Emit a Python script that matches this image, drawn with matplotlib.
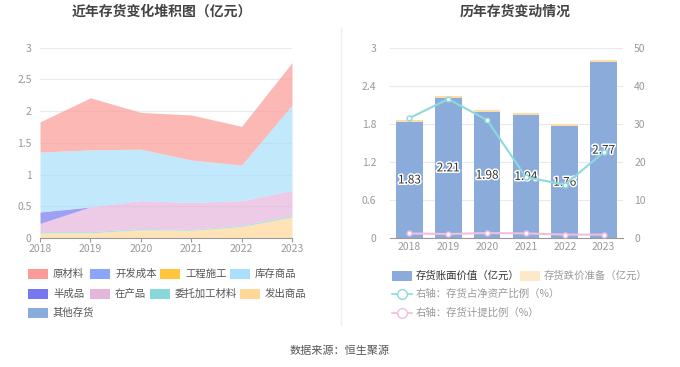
import numpy as np
import matplotlib.pyplot as plt
import matplotlib.patheffects as pe
from matplotlib.patches import Rectangle
from matplotlib.lines import Line2D

plt.rcParams['font.family'] = ['Noto Sans CJK SC', 'DejaVu Sans']

years = ['2018', '2019', '2020', '2021', '2022', '2023']

# left chart: stacked inventory components (亿元), bottom to top
fachu = [0.08, 0.08, 0.13, 0.12, 0.18, 0.33]        # 发出商品
weituo = [0.02, 0.02, 0.02, 0.015, 0.02, 0.025]     # 委托加工材料
zaichan = [0.13, 0.39, 0.44, 0.425, 0.39, 0.395]    # 在产品
banchengpin = [0.18, 0.0, 0.0, 0.0, 0.0, 0.0]       # 半成品
kucun = [0.945, 0.90, 0.81, 0.67, 0.56, 1.345]      # 库存商品
yuancailiao = [0.475, 0.82, 0.58, 0.71, 0.61, 0.67] # 原材料

# right chart
book_value = [1.83, 2.21, 1.98, 1.94, 1.76, 2.77]   # 存货账面价值
reserve = [0.03, 0.03, 0.03, 0.03, 0.03, 0.03]      # 存货跌价准备
net_asset_ratio = [31.5, 36.5, 31.0, 16.0, 14.0, 22.5]  # 存货占净资产比例
provision_ratio = [1.2, 1.05, 1.3, 1.2, 0.9, 0.9]       # 存货计提比例

fig = plt.figure(figsize=(6.8, 3.67), dpi=100)
W, H = 680, 367

def fx(px):
    return px / W

def fy(py):
    return 1 - py / H

grid_c = '#E6E9F0'
tick_c = '#999999'

# ---------- left: stacked area ----------
ax1 = fig.add_axes([fx(40), fy(238), fx(292) - fx(40), fy(47.7) - fy(238)])
x = np.arange(len(years))
stack_layers = [
    (fachu, '#FFD899'),
    (weituo, '#88D8DB'),
    (zaichan, '#E6B5DC'),
    (banchengpin, '#7777F0'),
    (kucun, '#A8DFFA'),
    (yuancailiao, '#FA9B95'),
]
base = np.zeros(len(years))
for vals, col in stack_layers:
    top = base + np.array(vals)
    ax1.fill_between(x, base, top, color=col, alpha=0.7, linewidth=0)
    base = top
ax1.set_xlim(0, 5)
ax1.set_ylim(0, 3)
ax1.set_yticks([0, 0.5, 1, 1.5, 2, 2.5, 3])
ax1.set_yticklabels(['0', '0.5', '1', '1.5', '2', '2.5', '3'])
ax1.set_xticks(x)
ax1.set_xticklabels(years)
ax1.grid(axis='y', color=grid_c, linewidth=0.8)
ax1.set_axisbelow(True)
for s in ['top', 'right', 'left']:
    ax1.spines[s].set_visible(False)
ax1.spines['bottom'].set_color('#999999')
ax1.tick_params(axis='y', length=0, labelsize=7.5, labelcolor=tick_c, pad=6)
ax1.tick_params(axis='x', length=3, color='#999999', labelsize=7.5, labelcolor=tick_c, pad=1)

# ---------- right: bars + lines ----------
ax2 = fig.add_axes([fx(390), fy(238), fx(623) - fx(390), fy(47.7) - fy(238)])
ax2.bar(x, book_value, width=0.69, color='#8BACDB', zorder=2)
ax2.bar(x, reserve, bottom=book_value, width=0.69, color='#FDDCA8', zorder=2)
ax2.set_xlim(-0.5, 5.5)
ax2.set_ylim(0, 3)
ax2.set_yticks([0, 0.6, 1.2, 1.8, 2.4, 3])
ax2.set_yticklabels(['0', '0.6', '1.2', '1.8', '2.4', '3'])
ax2.set_xticks(x)
ax2.set_xticklabels(years)
ax2.grid(axis='y', color=grid_c, linewidth=0.8)
ax2.set_axisbelow(True)
for s in ['top', 'right', 'left']:
    ax2.spines[s].set_visible(False)
ax2.spines['bottom'].set_color('#999999')
ax2.tick_params(axis='y', length=0, labelsize=7.5, labelcolor=tick_c, pad=10)
ax2.tick_params(axis='x', length=0, labelsize=7.5, labelcolor=tick_c, pad=3)

ax3 = ax2.twinx()
ax3.set_ylim(0, 50)
ax3.set_yticks([0, 10, 20, 30, 40, 50])
for s in ax3.spines.values():
    s.set_visible(False)
ax3.tick_params(axis='y', length=0, labelsize=7.5, labelcolor=tick_c, pad=8)
ax3.plot(x, net_asset_ratio, color='#8DD9DC', linewidth=1.5, marker='o', markersize=3.5,
         markerfacecolor='white', markeredgecolor='#8DD9DC', markeredgewidth=1, zorder=3)
ax3.plot(x, provision_ratio, color='#F2BDE0', linewidth=1.5, marker='o', markersize=3.5,
         markerfacecolor='white', markeredgecolor='#F2BDE0', markeredgewidth=1, zorder=3)

for i, v in enumerate(book_value):
    ax2.text(i, v / 2, f'{v:.2f}', ha='center', va='center', fontsize=8.5, color='#333333',
             zorder=5, path_effects=[pe.withStroke(linewidth=2.2, foreground='white')])

# ---------- titles, divider, source ----------
fig.text(fx(162), fy(12), '近年存货变化堆积图（亿元）', ha='center', va='center',
         fontsize=10, fontweight='bold', color='#444444')
fig.text(fx(515), fy(12), '历年存货变动情况', ha='center', va='center',
         fontsize=10, fontweight='bold', color='#444444')
fig.add_artist(Line2D([fx(341), fx(341)], [fy(28), fy(325)], color='#EEEEEE', linewidth=1))
fig.text(fx(340), fy(351), '数据来源：恒生聚源', ha='center', va='center',
         fontsize=8, color='#555555')

# ---------- left legend ----------
left_legend = [
    ('原材料', '#FA9B95', 28, 274), ('开发成本', '#8AA6FB', 90, 274),
    ('工程施工', '#FFC53D', 160, 274), ('库存商品', '#A8DFFA', 230, 274),
    ('半成品', '#7777F0', 28, 294), ('在产品', '#E6B5DC', 90, 294),
    ('委托加工材料', '#88D8DB', 150, 294), ('发出商品', '#FFD899', 240, 294),
    ('其他存货', '#8AACDA', 28, 313),
]
for name, col, px, py in left_legend:
    fig.add_artist(Rectangle((fx(px), fy(py + 5)), fx(20), fy(py - 5) - fy(py + 5),
                             facecolor=col, edgecolor='none', transform=fig.transFigure))
    fig.text(fx(px + 25), fy(py), name, ha='left', va='center', fontsize=7.5, color='#555555')

# ---------- right legend ----------
fig.add_artist(Rectangle((fx(392), fy(281)), fx(20), fy(271) - fy(281),
                         facecolor='#8BACDB', edgecolor='none', transform=fig.transFigure))
fig.text(fx(416), fy(276), '存货账面价值（亿元）', ha='left', va='center', fontsize=7.5, color='#333333')
fig.add_artist(Rectangle((fx(520), fy(281)), fx(20), fy(271) - fy(281),
                         facecolor='#FDE8C8', edgecolor='none', transform=fig.transFigure))
fig.text(fx(544), fy(276), '存货跌价准备（亿元）', ha='left', va='center', fontsize=7.5, color='#999999')
for py, col, name in [(294, '#8DD9DC', '右轴：存货占净资产比例（%）'),
                      (313, '#F2BDE0', '右轴：存货计提比例（%）')]:
    fig.add_artist(Line2D([fx(392), fx(412)], [fy(py), fy(py)], color=col, linewidth=1.2,
                          transform=fig.transFigure))
    fig.add_artist(Line2D([fx(402)], [fy(py)], color=col, marker='o', markersize=7,
                          markerfacecolor='white', markeredgewidth=1, transform=fig.transFigure))
    fig.text(fx(416), fy(py), name, ha='left', va='center', fontsize=7.5, color='#999999')

fig.savefig('out.png', dpi=100)
